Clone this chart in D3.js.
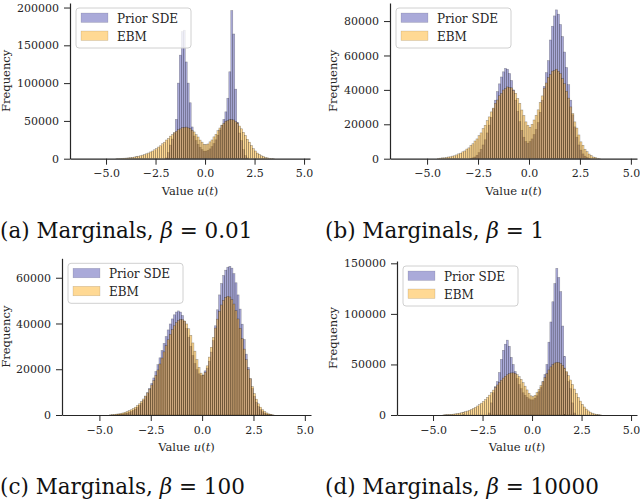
<!DOCTYPE html>
<html><head><meta charset="utf-8">
<script src="https://cdn.jsdelivr.net/npm/d3@7"></script>
<style>body{margin:0;background:#fff} svg{display:block}</style>
</head><body>
<svg id="chart" width="640" height="501"></svg>
<script>
// Histogram bin edges (value u(t))
const binEdges = [
-4.5,-4.4,-4.3,-4.2,-4.1,-4.0,-3.9,-3.8,-3.7,-3.6,
-3.5,-3.4,-3.3,-3.2,-3.1,-3.0,-2.9,-2.8,-2.7,-2.6,
-2.5,-2.4,-2.3,-2.2,-2.1,-2.0,-1.9,-1.8,-1.7,-1.6,
-1.5,-1.4,-1.3,-1.2,-1.1,-1.0,-0.9,-0.8,-0.7,-0.6,
-0.5,-0.4,-0.3,-0.2,-0.1,0.0,0.1,0.2,0.3,0.4,
0.5,0.6,0.7,0.8,0.9,1.0,1.1,1.2,1.3,1.4,
1.5,1.6,1.7,1.8,1.9,2.0,2.1,2.2,2.3,2.4,
2.5,2.6,2.7,2.8,2.9,3.0,3.1,3.2,3.3,3.4,
3.5];

// Frequencies in thousands, one value per bin
const priorA = [
0,0,0,0,0,0,0,0,0,0,
0,0,0,0,0,0,0,0,0,0,
0,0,0,0,0,1,8,18,26,34,
52,100,137,168,170,128,100,74,42,30,
24,19,15,12,10,10,11,13,16,20,
25,31,38,44,52,62,80,115,196,165,
92,48,34,24,12,4,1,0,0,0,
0,0,0,0,0,0,0,0,0,0];
const ebmA = [
0.2,0.3,0.4,0.6,0.7,0.9,1.2,1.4,1.8,2.3,
2.7,3.3,3.9,4.7,5.4,6.5,7.5,8.9,10.1,11.8,
13.2,15.4,17.1,19.8,21.8,24.7,26.8,29.8,31.8,34.5,
36.2,38.4,39.5,41.1,41.3,41.8,40.8,40.0,37.6,35.4,
31.8,28.7,24.6,21.9,19.0,18.6,19.5,22.3,24.8,28.9,
32.3,37.1,40.6,44.4,46.8,49.5,50.5,51.9,51.6,51.2,
49.0,47.1,43.2,39.6,34.8,30.7,25.6,21.8,17.4,13.3,
10.2,7.4,5.7,3.9,2.9,1.7,1.2,0.6,0.4,0.2];

const priorB = [
0,0,0,0,0,0,0,0,0,0,
0,0,0,0,0,0,0.2,0.5,1,2,
3.5,5.5,8,11,15,19.5,24,29,34,39,
43.5,47.5,50.5,52.5,52,49.5,45.5,40,34,27.5,
21.5,16.5,12.5,10,9,10,11.5,14,17,21,
27,34,42,50,57,69,77,83,86.5,84,
78,71,62,53,43,34,25.5,18.5,12.5,8,
5,2.8,1.5,0.7,0.3,0,0,0,0,0];
const ebmB = [
0.2,0.3,0.5,0.5,0.7,1.0,1.1,1.5,1.7,2.2,
2.8,3.2,4.0,4.5,5.6,6.3,7.7,8.7,10.3,11.5,
13.4,15.0,17.5,19.4,22.2,24.3,27.2,29.4,32.2,34.1,
36.6,38.0,39.9,40.7,41.7,41.4,41.2,39.6,38.0,35.0,
32.2,28.3,25.1,21.4,19.4,18.2,20.0,22.5,25.2,28.4,
32.7,36.5,41.0,44.0,47.2,48.9,50.9,51.3,52.0,50.8,
49.5,46.5,43.6,39.2,35.2,30.1,26.2,21.4,17.8,13.8,
9.8,7.8,5.5,4.1,2.7,1.9,1.0,0.8,0.3,0.2];

const priorC = [
0,0,0,0.1,0.2,0.3,0.4,0.6,0.8,1.1,
1.5,2,2.6,3.3,4.2,5.2,6.5,8,9.7,11.6,
13.8,16.2,19,22,25,28.2,31.3,34.3,37.2,39.8,
42,43.8,45,45.5,45,43.5,41,37.8,34,30,
26,22.5,19.8,18,17.2,17.5,19.3,20.5,23.5,27.5,
32.5,39,46,52.5,57.5,61,63.3,64.6,65,64.2,
61.8,57.8,52.5,46.3,39.7,33,26.6,20.8,15.8,11.6,
8.2,5.6,3.7,2.3,1.4,0.8,0.4,0.2,0.1,0];
const ebmC = [
0.1,0.2,0.3,0.4,0.5,0.7,0.9,1.2,1.5,1.9,
2.3,2.8,3.4,4.1,4.9,5.9,7.0,8.3,9.7,11.3,
13.1,15.1,17.3,19.7,22.3,24.9,27.6,30.3,32.9,35.2,
37.3,39.0,40.4,41.3,41.8,41.7,41.1,39.8,37.7,34.8,
31.5,27.9,24.2,20.8,18.3,17.4,18.6,21.5,25.3,29.6,
33.9,38.0,41.9,45.3,48.1,50.1,51.4,51.9,51.6,50.5,
48.5,45.6,42.0,37.9,33.4,28.8,24.2,19.9,15.9,12.4,
9.4,6.9,4.9,3.4,2.3,1.5,0.9,0.5,0.3,0.1];

const priorD = [
0,0,0,0,0,0,0,0,0,0,
0,0,0,0,0,0,0,0,0,0,
0,0,0,2,12,22,28,33,42,55,
64,70,74,68,57,50,43,36,30,26,
22,19.5,17.5,16,15,15,16.5,19,23,27,
33,40,50,72,92,112,130,145,136,122,
88,58,42,33,26,12,2,0,0,0,
0,0,0,0,0,0,0,0,0,0];
const ebmD = [
0.2,0.3,0.4,0.5,0.7,0.9,1.2,1.5,1.8,2.3,
2.8,3.3,3.9,4.7,5.5,6.5,7.6,8.9,10.2,11.7,
13.4,15.3,17.4,19.6,22.1,24.6,27.1,29.7,32.1,34.4,
36.5,38.3,39.8,40.9,41.6,41.7,41.1,39.9,37.9,35.3,
32.0,28.5,24.8,21.5,19.0,18.1,19.4,22.2,25.4,29.0,
32.9,37.0,40.9,44.6,47.6,49.9,51.4,52.1,51.9,50.9,
49.0,46.4,43.0,39.0,34.6,30.1,25.6,21.3,17.3,13.7,
10.5,7.9,5.8,4.1,2.8,1.8,1.1,0.7,0.4,0.2];

const xTicks = [-5, -2.5, 0, 2.5, 5];
const yTicksA = [0, 50000, 100000, 150000, 200000];
const yTicksB = [0, 20000, 40000, 60000, 80000];
const yTicksC = [0, 20000, 40000, 60000];
const yTicksD = [0, 50000, 100000, 150000];
const seriesNames = ["Prior SDE", "EBM"];
const captionLabels = ["(a)", "(b)", "(c)", "(d)"];
const betaValues = ["0.01", "1", "100", "10000"];

const panels = [
  {prior: priorA, ebm: ebmA, yTicks: yTicksA, yMax: 206000, left: 70,  right: 310, top: 3,     bottom: 158.7, capX: 0,   capY: 238, ylabX: 9.5},
  {prior: priorB, ebm: ebmB, yTicks: yTicksB, yMax: 90500,  left: 390, right: 637, top: 3,     bottom: 158.7, capX: 325, capY: 238, ylabX: 336.5},
  {prior: priorC, ebm: ebmC, yTicks: yTicksC, yMax: 68500,  left: 62,  right: 311, top: 258.3, bottom: 415,   capX: 0,   capY: 494, ylabX: 10},
  {prior: priorD, ebm: ebmD, yTicks: yTicksD, yMax: 152300, left: 397, right: 637, top: 261,   bottom: 415,   capX: 325, capY: 494, ylabX: 337}
];

const FONT = "'DejaVu Serif', serif";
const INK = "#262626";
const styles = [
  {fill: "#20209a", alpha: 0.38},
  {fill: "#ffa500", alpha: 0.42}
];

const svg = d3.select("#chart");

panels.forEach((p, pi) => {
  const x = d3.scaleLinear().domain([-6.82, 5.3]).range([p.left, p.right]);
  const y = d3.scaleLinear().domain([0, p.yMax]).range([p.bottom, p.top]);
  const g = svg.append("g");

  [p.prior, p.ebm].forEach((vals, si) => {
    const st = styles[si];
    const data = vals.map((v, i) => ({x0: binEdges[i], x1: binEdges[i + 1], v: v * 1000})).filter(d => d.v > 0);
    g.append("g").selectAll("rect").data(data).join("rect")
      .attr("x", d => x(d.x0))
      .attr("width", d => x(d.x1) - x(d.x0))
      .attr("y", d => y(d.v))
      .attr("height", d => y(0) - y(d.v))
      .attr("fill", st.fill).attr("fill-opacity", st.alpha)
      .attr("stroke", "#000").attr("stroke-opacity", st.alpha * 0.9).attr("stroke-width", 0.55);
  });

  const xAxis = g.append("g").attr("transform", `translate(0,${p.bottom})`)
    .call(d3.axisBottom(x).tickValues(xTicks).tickFormat(d3.format(".1f")).tickSize(6).tickSizeOuter(0).tickPadding(5));
  const yAxis = g.append("g").attr("transform", `translate(${p.left},0)`)
    .call(d3.axisLeft(y).tickValues(p.yTicks).tickFormat(d3.format("d")).tickSize(6).tickSizeOuter(0).tickPadding(5));
  [xAxis, yAxis].forEach(a => {
    a.select(".domain").attr("stroke", INK).attr("stroke-width", 1.2);
    a.selectAll(".tick line").attr("stroke", INK).attr("stroke-width", 1);
    a.selectAll("text").attr("font-family", FONT).attr("font-size", 11).attr("fill", INK);
  });

  // axis labels
  const xl = g.append("text").attr("x", (p.left + p.right) / 2).attr("y", p.bottom + 36)
    .attr("text-anchor", "middle").attr("font-family", FONT).attr("font-size", 11.5).attr("fill", INK);
  xl.append("tspan").text("Value ");
  xl.append("tspan").attr("font-style", "italic").text("u");
  xl.append("tspan").text("(");
  xl.append("tspan").attr("font-style", "italic").text("t");
  xl.append("tspan").text(")");

  const yc = (p.top + p.bottom) / 2;
  g.append("text").attr("transform", `translate(${p.ylabX},${yc}) rotate(-90)`)
    .attr("text-anchor", "middle").attr("font-family", FONT).attr("font-size", 11.5).attr("fill", INK)
    .text("Frequency");

  // legend
  const lg = g.append("g").attr("transform", `translate(${p.left + 6},${p.top + 5})`);
  lg.append("rect").attr("x", 0).attr("y", 0).attr("width", 115).attr("height", 40).attr("rx", 3)
    .attr("fill", "#fff").attr("fill-opacity", 0.8).attr("stroke", "#d0d0d0").attr("stroke-width", 1);
  seriesNames.forEach((name, si) => {
    const st = styles[si];
    lg.append("rect").attr("x", 5).attr("y", 5 + si * 18).attr("width", 27).attr("height", 9.5)
      .attr("fill", st.fill).attr("fill-opacity", st.alpha)
      .attr("stroke", "#000").attr("stroke-opacity", st.alpha * 0.5).attr("stroke-width", 0.5);
    lg.append("text").attr("x", 41).attr("y", 14.5 + si * 18)
      .attr("font-family", FONT).attr("font-size", 12).attr("fill", INK).text(name);
  });

  // caption
  const cap = svg.append("text").attr("x", p.capX).attr("y", p.capY)
    .attr("font-family", FONT).attr("font-size", 21.5).attr("fill", "#111");
  cap.append("tspan").text(captionLabels[pi] + " Marginals, ");
  cap.append("tspan").attr("font-style", "italic").text("β");
  cap.append("tspan").text(" = " + betaValues[pi]);
});
</script>
</body></html>
